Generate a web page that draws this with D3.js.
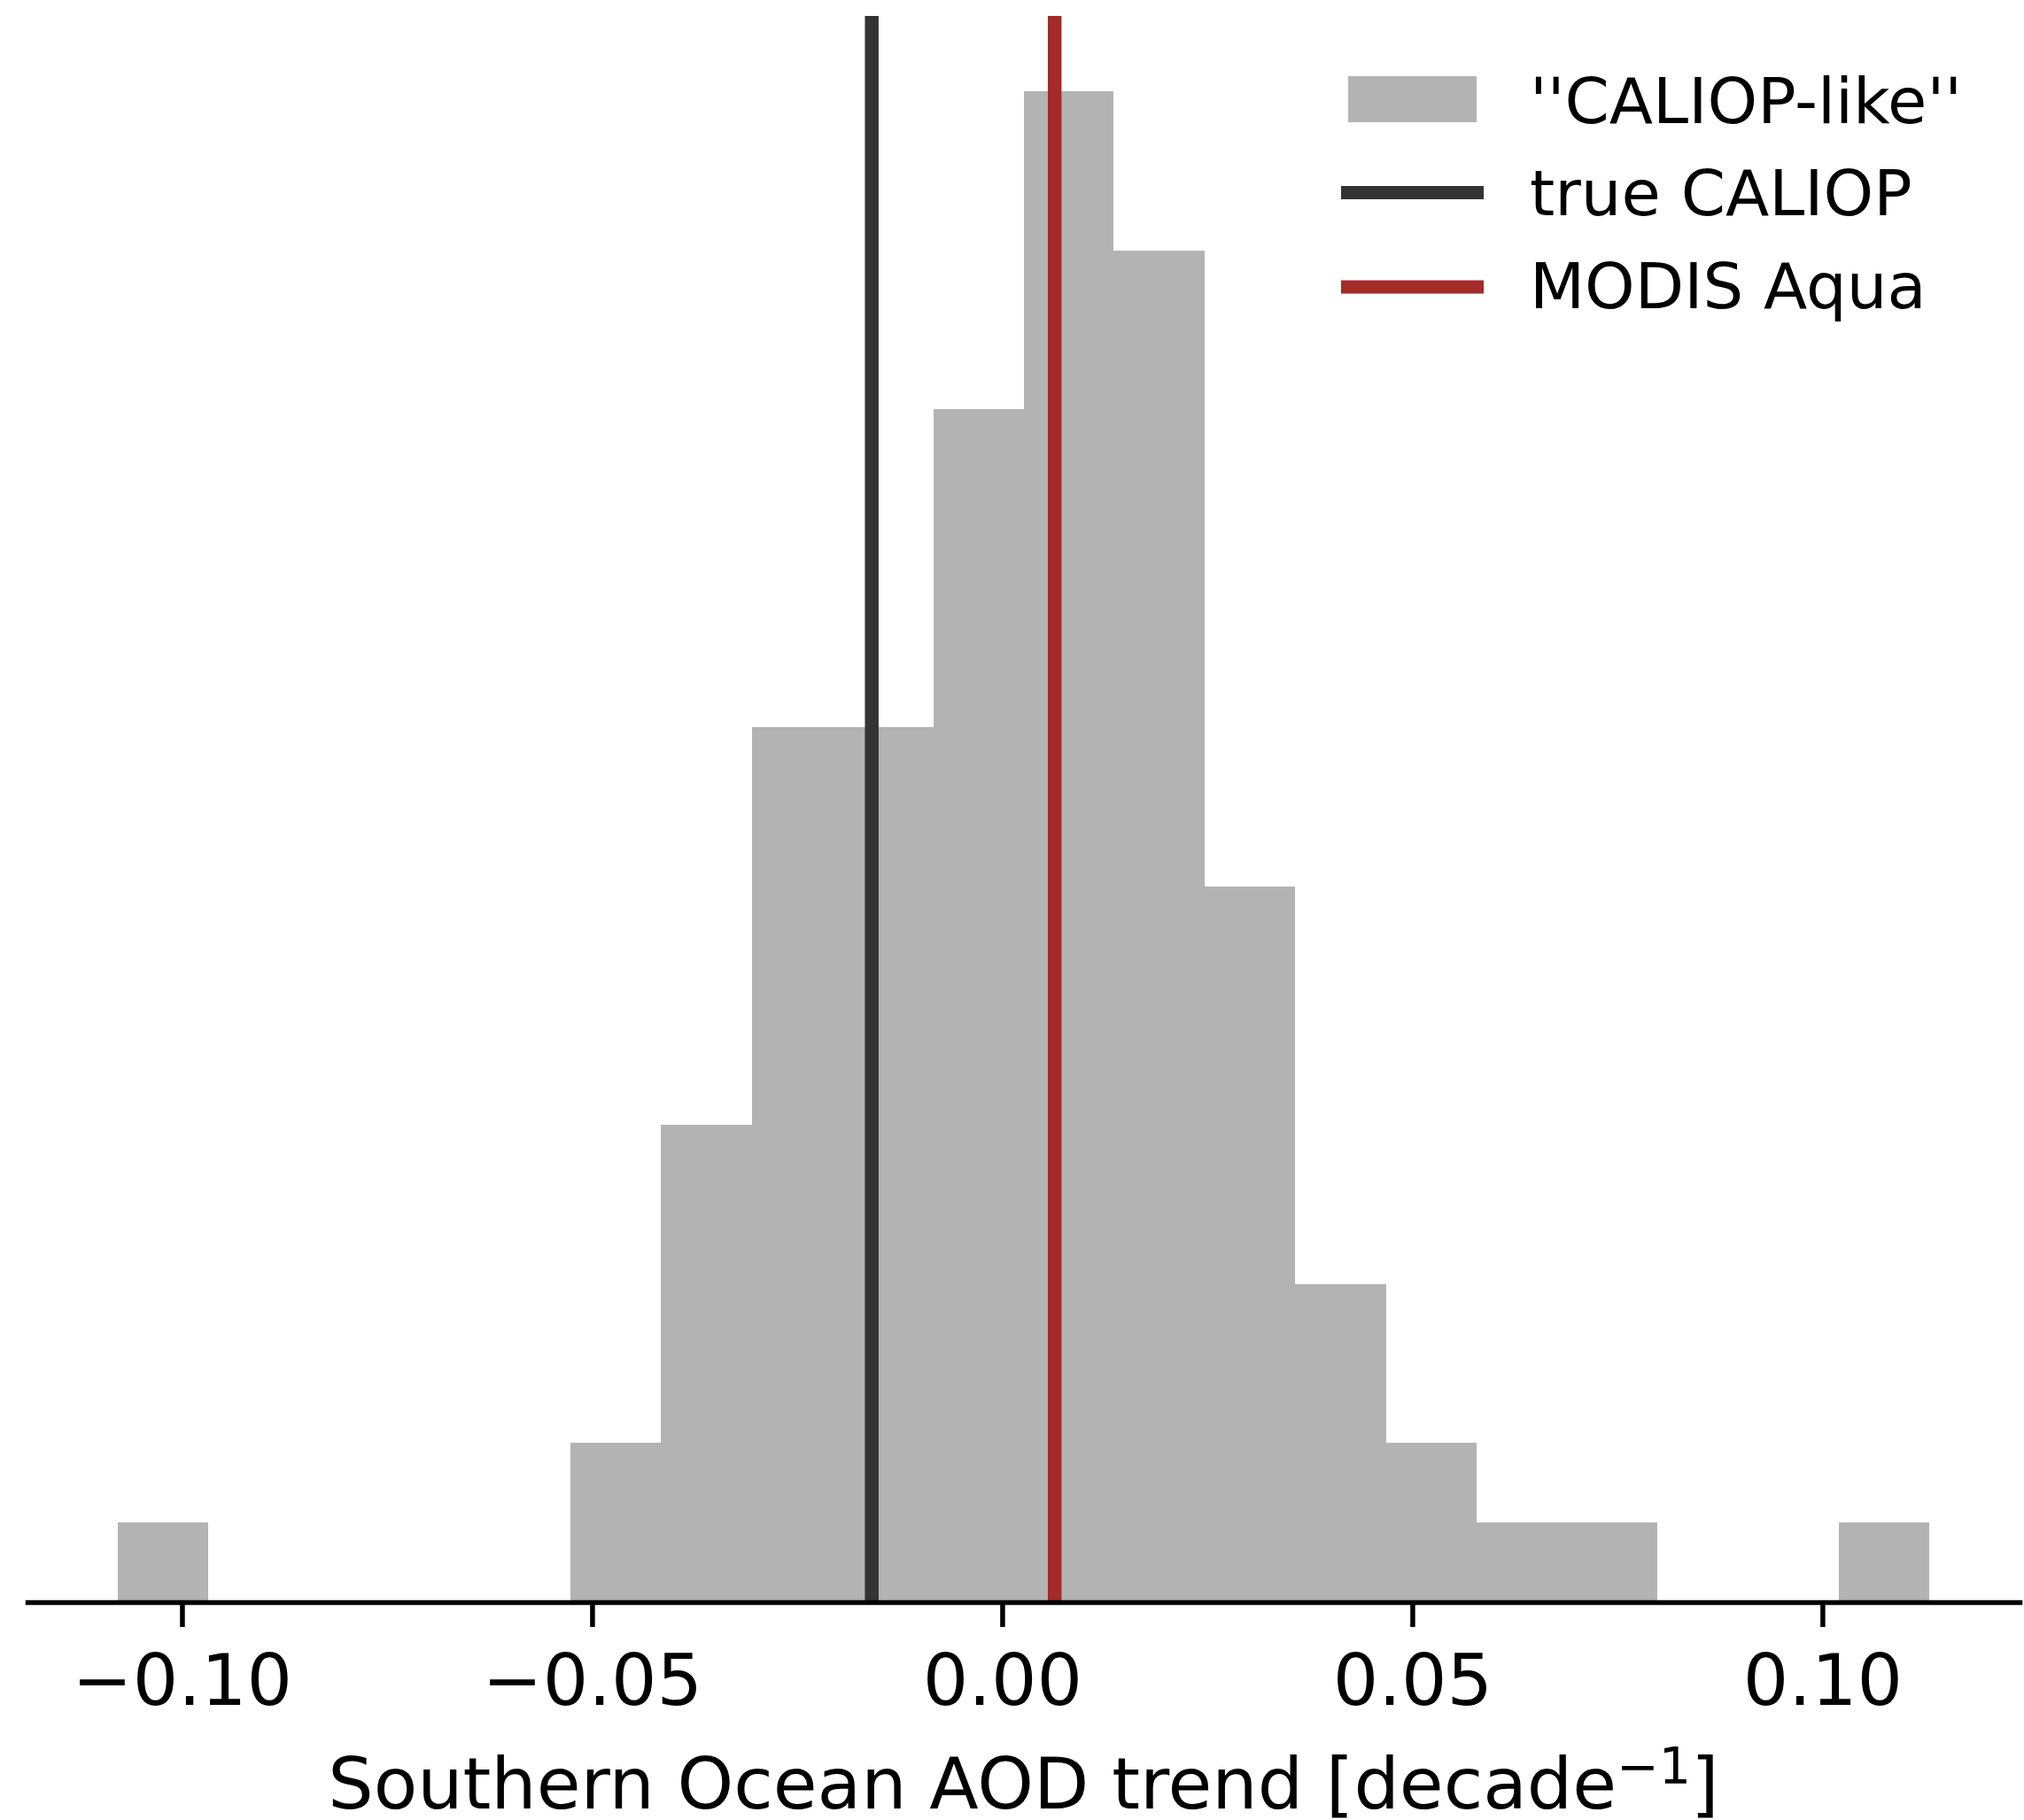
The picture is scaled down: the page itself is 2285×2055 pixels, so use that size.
<!DOCTYPE html>
<html>
<head>
<meta charset="utf-8">
<script src="https://cdn.jsdelivr.net/npm/d3@7"></script>
<style>
  html, body { margin: 0; padding: 0; background: #ffffff; }
  svg { display: block; font-family: "DejaVu Sans", sans-serif; }
</style>
</head>
<body>
<svg id="chart" width="2285" height="2055"></svg>
<script>
// Histogram of Southern Ocean AOD trends from the "CALIOP-like" samples
const binEdges = [
  -0.1078, -0.0968, -0.0857, -0.0747, -0.0636, -0.0526, -0.0416, -0.0305,
  -0.0195, -0.0084, 0.0026, 0.0136, 0.0247, 0.0357, 0.0468, 0.0578,
  0.0688, 0.0799, 0.0909, 0.1020, 0.1130
];
const binCounts = [1, 0, 0, 0, 0, 2, 6, 11, 11, 15, 19, 17, 9, 4, 2, 1, 1, 0, 0, 1];

// Reference trends drawn as vertical lines
const refNames = ["true CALIOP", "MODIS Aqua"];
const refValues = [-0.0159, 0.0064];
const refColors = ["#333333", "#a52a2a"];

const xTicks = [-0.10, -0.05, 0.00, 0.05, 0.10];
const xLabel = "Southern Ocean AOD trend [decade";
const xLabelSup = "\u22121";
const histLabel = "''CALIOP-like''";
const histColor = "#b3b3b3";

// Layout
const plotLeft = 31, plotRight = 2280, plotTop = 18, plotBottom = 1809;

const svg = d3.select("#chart");

// Axis limits with 5% padding around the bin range, y up to 1.05 × the tallest bin
const span = binEdges[binEdges.length - 1] - binEdges[0];
const x = d3.scaleLinear()
  .domain([binEdges[0] - 0.05 * span, binEdges[binEdges.length - 1] + 0.05 * span])
  .range([plotLeft, plotRight]);
const y = d3.scaleLinear()
  .domain([0, d3.max(binCounts) * 1.05])
  .range([plotBottom, plotTop]);

const bins = binCounts.map((c, i) => ({ x0: binEdges[i], x1: binEdges[i + 1], count: c }));

// Bars
svg.append("g").selectAll("rect")
  .data(bins.filter(d => d.count > 0))
  .join("rect")
  .attr("x", d => x(d.x0))
  .attr("width", d => x(d.x1) - x(d.x0))
  .attr("y", d => y(d.count))
  .attr("height", d => y(0) - y(d.count))
  .attr("fill", histColor)
  .attr("shape-rendering", "crispEdges");

// Reference lines spanning the plot height
svg.append("g").selectAll("line")
  .data(refValues.map((v, i) => ({ v, c: refColors[i] })))
  .join("line")
  .attr("x1", d => x(d.v)).attr("x2", d => x(d.v))
  .attr("y1", y.range()[1]).attr("y2", y.range()[0])
  .attr("stroke", d => d.c)
  .attr("stroke-width", 15.5);

// Bottom axis
const xAxis = d3.axisBottom(x)
  .tickValues(xTicks)
  .tickFormat(d3.format(".2f"))
  .tickSizeInner(28)
  .tickSizeOuter(0);

const gx = svg.append("g")
  .attr("transform", `translate(0,${plotBottom})`)
  .call(xAxis);
gx.select(".domain")
  .attr("stroke", "#000")
  .attr("stroke-width", 5.5)
  .attr("stroke-linecap", "square");
gx.selectAll(".tick line")
  .attr("stroke", "#000")
  .attr("stroke-width", 5.5);
gx.selectAll(".tick text")
  .attr("y", 116)
  .attr("dy", null)
  .attr("fill", "#000")
  .attr("font-size", 81)
  .attr("font-family", "DejaVu Sans");

// Axis title with superscript exponent
const title = svg.append("text")
  .attr("x", (plotLeft + plotRight) / 2)
  .attr("y", 2042)
  .attr("text-anchor", "middle")
  .attr("font-size", 81)
  .attr("fill", "#000");
title.append("tspan").text(xLabel);
title.append("tspan").attr("dy", -28).attr("font-size", 57).text(xLabelSup);
title.append("tspan").attr("dy", 28).text("]");

// Legend
const legend = svg.append("g").attr("font-size", 72).attr("fill", "#000");
legend.append("rect")
  .attr("x", 1522).attr("y", 86).attr("width", 145).attr("height", 52)
  .attr("fill", histColor);
legend.append("text").attr("x", 1727).attr("y", 139).text(histLabel);

refNames.forEach((name, i) => {
  const cy = 217.5 + i * 106.5;
  legend.append("line")
    .attr("x1", 1514).attr("x2", 1675)
    .attr("y1", cy).attr("y2", cy)
    .attr("stroke", refColors[i])
    .attr("stroke-width", 15);
  legend.append("text").attr("x", 1727).attr("y", 243 + i * 105).text(name);
});
</script>
</body>
</html>
